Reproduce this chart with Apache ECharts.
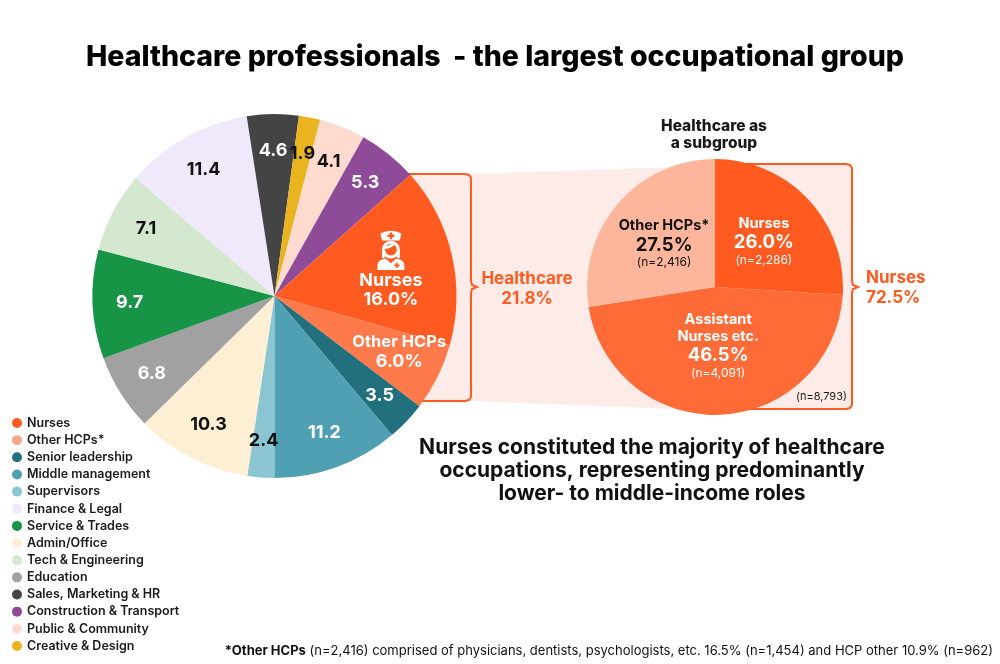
<!DOCTYPE html>
<html>
<head>
<meta charset="utf-8">
<title>Healthcare professionals</title>
<script src="https://cdn.jsdelivr.net/npm/echarts@6/dist/echarts.min.js"></script>
<style>
  html, body { margin: 0; padding: 0; background: #fff; }
  #chart { width: 1000px; height: 664px; }
</style>
</head>
<body>
<div id="chart"></div>
<script>
// 全部职业 (%), 从底部顺时针
var groupNames = [
  'Supervisors', 'Admin/Office', 'Education', 'Service & Trades', 'Tech & Engineering',
  'Finance & Legal', 'Sales, Marketing & HR', 'Creative & Design', 'Public & Community',
  'Construction & Transport', 'Nurses', 'Other HCPs*', 'Senior leadership', 'Middle management'
];
var groupValues = [2.4, 10.3, 6.8, 9.7, 7.1, 11.4, 4.6, 1.9, 4.1, 5.3, 16.0, 6.0, 3.5, 11.2];

// 图例顺序
var legendOrder = [
  'Nurses', 'Other HCPs*', 'Senior leadership', 'Middle management', 'Supervisors',
  'Finance & Legal', 'Service & Trades', 'Admin/Office', 'Tech & Engineering', 'Education',
  'Sales, Marketing & HR', 'Construction & Transport', 'Public & Community', 'Creative & Design'
];

// 医疗子组 (%)
var subNames = ['Nurses', 'Assistant Nurses etc.', 'Other HCPs*'];
var subLabels = ['Nurses', 'Assistant\nNurses etc.', 'Other HCPs*'];
var subShares = [26.0, 46.5, 27.5];
var subCounts = [2286, 4091, 2416];

var healthcareShare = 21.8;
var otherHcpParts = ['physicians, dentists, psychologists, etc.', 'HCP other'];
var otherHcpShares = [16.5, 10.9];
var otherHcpCounts = [1454, 962];

// 颜色
var colors = {
  'Nurses': '#ff5a1f',
  'Other HCPs*': '#ff7a4b',
  'Senior leadership': '#226f7e',
  'Middle management': '#4fa0b3',
  'Supervisors': '#8bc5d2',
  'Finance & Legal': '#f0e8fb',
  'Service & Trades': '#179446',
  'Admin/Office': '#fcefd3',
  'Tech & Engineering': '#d3e8cf',
  'Education': '#a1a1a1',
  'Sales, Marketing & HR': '#444444',
  'Construction & Transport': '#8e4b98',
  'Public & Community': '#ffdbcf',
  'Creative & Design': '#e9b41f'
};
var legendColors = { 'Other HCPs*': '#fca68a' };
var darkLabel = ['Supervisors', 'Finance & Legal', 'Admin/Office', 'Tech & Engineering',
  'Creative & Design', 'Public & Community'];
var subColors = ['#ff5a1f', '#ff6b36', '#fdb69c'];

var orange = '#ff5a1f';
var pink = '#fcebe6';
var font = 'Inter';

var nurseIcon = 'data:image/svg+xml;utf8,' + encodeURIComponent(
  '<svg xmlns="http://www.w3.org/2000/svg" width="32" height="40" viewBox="0 0 32 40">' +
  '<path d="M5.5 3.5 Q16 -2 26.5 3.5 L24.8 10.5 L7.2 10.5 Z" fill="#fff"/>' +
  '<path d="M14.8 2.3h2.4v2.2h2.2v2.4h-2.2v2.2h-2.4v-2.2h-2.2v-2.4h2.2z" fill="#ff5a1f"/>' +
  '<circle cx="16" cy="19.5" r="7.4" fill="none" stroke="#fff" stroke-width="3"/>' +
  '<path d="M9.5 17.5 Q16 17 19.5 13" fill="none" stroke="#fff" stroke-width="2.6"/>' +
  '<path d="M8.5 20 V28 M23.5 20 V28" stroke="#fff" stroke-width="2.8"/>' +
  '<path d="M2.5 40 V35.5 Q2.5 29.5 10.5 28.3 L16 33.2 L21.5 28.3 Q29.5 29.5 29.5 35.5 V40 Z" fill="#fff"/>' +
  '<path d="M21 32.6h1.8v1.8h1.8v1.8h-1.8v1.8h-1.8v-1.8h-1.8v-1.8h1.8z" fill="#ff5a1f"/>' +
  '</svg>');

var center = [274.5, 296];
var R = 182;

function fmtN(n) {
  return n.toLocaleString('en-US');
}

var mainData = groupNames.map(function (name, i) {
  return { name: name, value: groupValues[i], itemStyle: { color: colors[name] } };
});

// 数值标签 (0.78R)
var labelData = groupNames.map(function (name, i) {
  var show = name !== 'Nurses' && name !== 'Other HCPs*';
  return {
    name: name,
    value: groupValues[i],
    label: { show: show, color: darkLabel.indexOf(name) >= 0 ? '#111' : '#fff' }
  };
});

// Other HCPs 标签
var otherData = groupNames.map(function (name, i) {
  return { name: name, value: groupValues[i], label: { show: name === 'Other HCPs*' } };
});

// 护士标签 (0.64R)
var nurseData = groupNames.map(function (name, i) {
  return { name: name, value: groupValues[i], label: { show: name === 'Nurses' } };
});

var subData = subNames.map(function (name, i) {
  var item = {
    name: name,
    value: subShares[i],
    count: subCounts[i],
    label: { color: i === 2 ? '#111' : '#fff' },
    itemStyle: { color: subColors[i] }
  };
  if (i === 1) {
    item.label.padding = [0, 0, 17, 0];
  }
  return item;
});

var subTotal = subCounts.reduce(function (a, b) { return a + b; }, 0);
var nurseTotal = subShares[0] + subShares[1];

var footRich = '{b|*Other HCPs} (n=' + fmtN(subCounts[2]) + ') comprised of ' +
  otherHcpParts[0] + ' ' + otherHcpShares[0].toFixed(1) + '% (n=' + fmtN(otherHcpCounts[0]) +
  ') and ' + otherHcpParts[1] + ' ' + otherHcpShares[1].toFixed(1) + '% (n=' + fmtN(otherHcpCounts[1]) + ')';

var transparentItem = { color: 'rgba(0,0,0,0)', borderWidth: 0 };

var bracketLeft = [[405, 174], [465, 174], [469, 175], [471, 178], [471, 281], [472, 285], [477, 287],
  [472, 289], [471, 293], [471, 397], [469, 400], [465, 401], [415, 401]];
var bracketRight = [[730, 164], [846, 164], [850, 165], [852, 168], [852, 281], [853, 285], [858, 287],
  [853, 289], [852, 293], [852, 405], [850, 408], [846, 409], [745, 409]];

function overlay(name, radius, data, label) {
  return {
    name: name,
    type: 'pie',
    z: 4,
    center: center,
    radius: radius,
    startAngle: 270,
    clockwise: true,
    silent: true,
    legendHoverLink: false,
    avoidLabelOverlap: false,
    labelLayout: { hideOverlap: false },
    itemStyle: transparentItem,
    labelLine: { show: false },
    label: label,
    data: data
  };
}

var option = {
  backgroundColor: '#fff',
  animation: false,
  title: {
    text: 'Healthcare professionals  - the largest occupational group',
    left: 490,
    top: 38,
    textAlign: 'center',
    textStyle: { fontFamily: font, fontSize: 28.5, fontWeight: 800, color: '#000' }
  },
  legend: {
    orient: 'vertical',
    left: 7,
    top: 411,
    icon: 'circle',
    itemWidth: 10,
    itemHeight: 10,
    itemGap: 3.15,
    selectedMode: false,
    textStyle: { fontFamily: font, fontSize: 12.5, fontWeight: 600, color: '#1a1a1a', lineHeight: 14 },
    data: legendOrder.map(function (name) {
      return { name: name, itemStyle: { color: legendColors[name] || colors[name] } };
    })
  },
  graphic: [
    // 粉色连接带
    { type: 'rect', z: 0, shape: { x: 380, y: 174, width: 91, height: 227 }, style: { fill: pink } },
    { type: 'polygon', z: 0, shape: { points: [[470, 174], [676, 167], [676, 409], [470, 401]] }, style: { fill: pink } },
    { type: 'rect', z: 0, shape: { x: 675, y: 164, width: 177, height: 245, r: [0, 6, 6, 0] }, style: { fill: pink } },
    // 括号
    { type: 'polyline', z: 1, shape: { points: bracketLeft }, style: { fill: null, stroke: orange, lineWidth: 2 } },
    { type: 'polyline', z: 1, shape: { points: bracketRight }, style: { fill: null, stroke: orange, lineWidth: 2 } },
    {
      type: 'text', z: 5, x: 527, y: 289,
      style: {
        text: 'Healthcare\n' + healthcareShare.toFixed(1) + '%',
        fill: orange, font: '700 17px Inter', lineHeight: 20, align: 'center', verticalAlign: 'middle'
      }
    },
    {
      type: 'text', z: 5, x: 866, y: 288,
      style: {
        text: 'Nurses\n' + nurseTotal.toFixed(1) + '%',
        fill: orange, font: '700 17px Inter', lineHeight: 20, align: 'left', verticalAlign: 'middle'
      }
    },
    {
      type: 'text', z: 5, x: 714, y: 135,
      style: {
        text: 'Healthcare as\na subgroup',
        fill: '#1a1a1a', font: '800 15.5px Inter', lineHeight: 17, align: 'center', verticalAlign: 'middle'
      }
    },
    {
      type: 'text', z: 5, x: 847, y: 397,
      style: {
        text: '(n=' + fmtN(subTotal) + ')',
        fill: '#1a1a1a', font: '400 11px Inter', align: 'right', verticalAlign: 'middle'
      }
    },
    {
      type: 'text', z: 5, x: 652, y: 471,
      style: {
        text: 'Nurses constituted the majority of healthcare\noccupations, representing predominantly\nlower- to middle-income roles',
        fill: '#111', font: '700 21px Inter', lineHeight: 23, align: 'center', verticalAlign: 'middle'
      }
    },
    {
      type: 'text', z: 5, x: 993, y: 651,
      style: {
        text: footRich,
        fill: '#111', font: '400 13px Inter', align: 'right', verticalAlign: 'middle',
        rich: { b: { fontFamily: font, fontSize: 13, fontWeight: 700, fill: '#111' } }
      }
    }
  ],
  series: [
    {
      name: 'All occupations',
      type: 'pie',
      z: 3,
      center: center,
      radius: [0, R],
      startAngle: 270,
      clockwise: true,
      avoidLabelOverlap: false,
      label: { show: false },
      labelLine: { show: false },
      itemStyle: { borderWidth: 0 },
      emphasis: { disabled: true },
      data: mainData
    },
    // 透明环, 标签落在 0.78R
    overlay('labels', [R * 0.34, R * 1.22], labelData, {
      position: 'inside',
      fontFamily: font,
      fontSize: 18,
      fontWeight: 700,
      lineHeight: 19,
      formatter: function (p) {
        return p.value.toFixed(1);
      }
    }),
    overlay('other label', [R * 0.34, R * 1.22], otherData, {
      position: 'inside',
      color: '#fff',
      fontFamily: font,
      fontSize: 18,
      fontWeight: 700,
      lineHeight: 19,
      padding: [0, 10, 18, 0],
      formatter: function (p) {
        return '{s|' + p.name.replace('*', '') + '}\n' + p.value.toFixed(1) + '%';
      },
      rich: { s: { fontFamily: font, fontSize: 16.5, fontWeight: 700, lineHeight: 19 } }
    }),
    overlay('nurse label', [R * 0.28, R], nurseData, {
      position: 'inside',
      color: '#fff',
      fontFamily: font,
      fontSize: 18,
      fontWeight: 700,
      lineHeight: 19,
      formatter: function (p) {
        return '{icon|}\n' + p.name + '\n' + p.value.toFixed(1) + '%';
      },
      rich: {
        icon: { width: 32, height: 40, lineHeight: 42, backgroundColor: { image: nurseIcon } }
      }
    }),
    {
      name: 'Healthcare as a subgroup',
      type: 'pie',
      z: 3,
      center: [715, 287],
      radius: [0, 128],
      startAngle: 90,
      clockwise: true,
      avoidLabelOverlap: false,
      legendHoverLink: false,
      itemStyle: { borderWidth: 0 },
      emphasis: { disabled: true },
      labelLine: { show: false },
      label: {
        position: 'inside',
        fontFamily: font,
        formatter: function (p) {
          var lines = subLabels[p.dataIndex].split('\n').map(function (s) { return '{n|' + s + '}'; });
          lines.push('{p|' + p.value.toFixed(1) + '%}');
          lines.push('{c|(n=' + fmtN(p.data.count) + ')}');
          return lines.join('\n');
        },
        rich: {
          n: { fontFamily: font, fontSize: 14.5, fontWeight: 700, lineHeight: 17 },
          p: { fontFamily: font, fontSize: 18.5, fontWeight: 700, lineHeight: 21 },
          c: { fontFamily: font, fontSize: 12, fontWeight: 400, lineHeight: 14 }
        }
      },
      data: subData
    }
  ]
};

var chart = echarts.init(document.getElementById('chart'));
chart.setOption(option);
</script>
</body>
</html>
